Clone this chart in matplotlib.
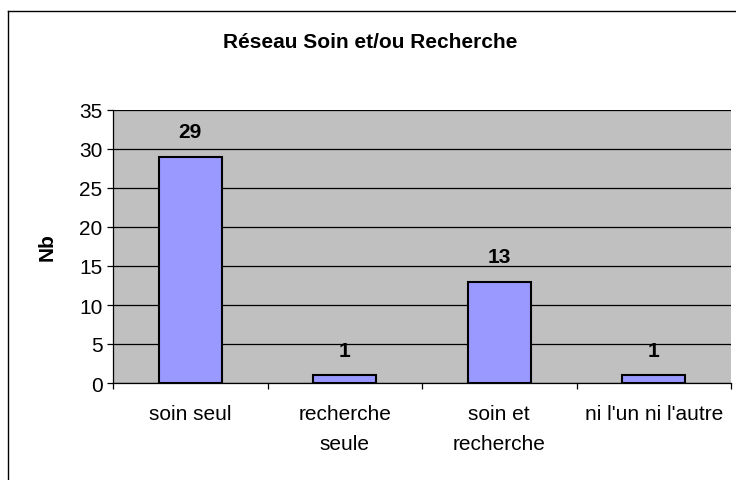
import matplotlib
matplotlib.use("Agg")
import matplotlib.pyplot as plt
from matplotlib.lines import Line2D
import numpy as np

categories = ["soin seul", "recherche\nseule", "soin et\nrecherche", "ni l'un ni l'autre"]
counts = [29, 1, 13, 1]
yticks = [0, 5, 10, 15, 20, 25, 30, 35]

plt.rcParams['font.family'] = ['Liberation Sans', 'DejaVu Sans']
FS = 15

fig = plt.figure(figsize=(7.36, 4.81), dpi=100)
W, H = 736, 481
ax = fig.add_axes([113 / W, 1 - 384 / H, (731 - 113) / W, (384 - 111) / H])

x = np.arange(len(categories))
ax.set_facecolor("#C0C0C0")
ax.set_axisbelow(True)
ax.yaxis.grid(True, color="black", linewidth=0.9)
bars = ax.bar(x, counts, width=0.41, color="#9999FF", edgecolor="black", linewidth=1.5, zorder=3)
for xi, v in zip(x, counts):
    ax.text(xi, v + 3.2, str(v), ha="center", va="center", fontsize=FS, fontweight="bold")

ax.set_xlim(-0.5, len(categories) - 0.5)
ax.set_ylim(0, 35)
ax.set_yticks(yticks)
ax.tick_params(axis="y", labelsize=FS, length=4.5, width=0.9, pad=3)

# category boundaries get the tick marks, labels sit in between
ax.set_xticks(np.arange(len(categories) + 1) - 0.5)
ax.set_xticklabels([])
ax.set_xticks(x, minor=True)
ax.set_xticklabels(categories, minor=True, fontsize=FS, linespacing=1.75)
ax.tick_params(axis="x", which="major", length=4.5, width=0.9, direction="out")
ax.tick_params(axis="x", which="minor", length=0, pad=15)

for s in ["top", "right"]:
    ax.spines[s].set_visible(False)
ax.spines["left"].set_linewidth(0.9)
ax.spines["bottom"].set_linewidth(0.9)

ax.set_ylabel("Nb", fontsize=FS, fontweight="bold", labelpad=16)
fig.text(370 / W, 1 - 42 / H, "Réseau Soin et/ou Recherche", ha="center", va="center",
         fontsize=FS, fontweight="bold")

# outer chart frame
fig.add_artist(Line2D([8 / W, 8 / W], [0, 1 - 12 / H], color="black", linewidth=1, transform=fig.transFigure))
fig.add_artist(Line2D([8 / W, 1], [1 - 12 / H, 1 - 12 / H], color="black", linewidth=1, transform=fig.transFigure))

fig.savefig("out.png", dpi=100)
